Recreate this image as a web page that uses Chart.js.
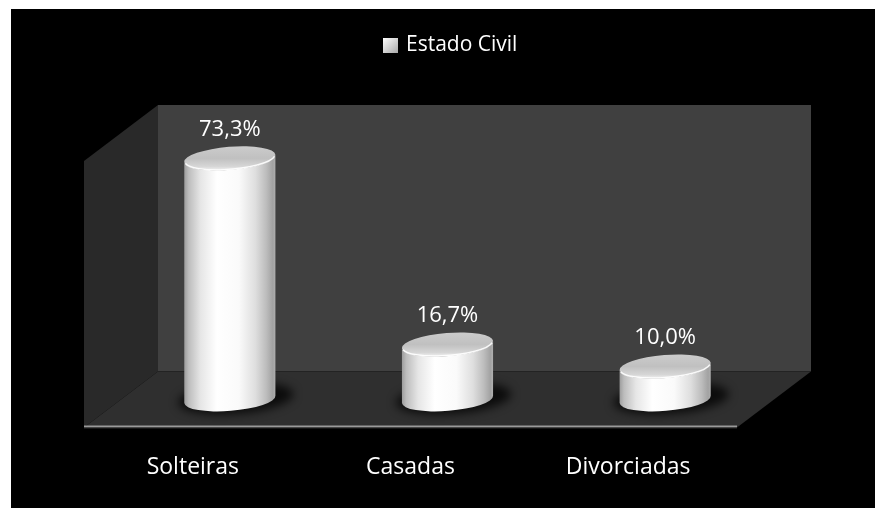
<!DOCTYPE html>
<html>
<head>
<meta charset="utf-8">
<script src="https://cdn.jsdelivr.net/npm/chart.js@4.4.1/dist/chart.umd.min.js"></script>
<style>
  html, body { margin: 0; padding: 0; background: #fff; }
  .chart { width: 875px; height: 508px; }
</style>
</head>
<body>
<div class="chart"><canvas id="chart" width="875" height="508"></canvas></div>
<script>
const categories = ['Solteiras', 'Casadas', 'Divorciadas'];
const seriesName = 'Estado Civil';
const percentages = [73.3, 16.7, 10.0];

const FONT = '"Open Sans", "Noto Sans", sans-serif';
// half depth of the 3D box, measured from the plane the cylinders stand in
const DX = 37;
const DY = 28;
const TICK_PAD = 54;
const TICK_SIZE = 23;

const formatPct = (v) => v.toFixed(1).replace('.', ',') + '%';

// white frame, back wall, side wall and floor
const room = {
  id: 'room',
  beforeDraw(chart) {
    const { ctx, chartArea: a, width, height } = chart;
    const base = chart.scales.y.getPixelForValue(0);
    const top = a.top;
    ctx.save();
    ctx.fillStyle = '#ffffff';
    ctx.fillRect(0, 0, width, height);
    ctx.fillStyle = '#000000';
    ctx.fillRect(11, 9, width - 11, height - 9);

    ctx.fillStyle = '#404040';
    ctx.fillRect(a.left + DX, top - DY, a.right - a.left, base - top);

    ctx.fillStyle = '#292929';
    ctx.beginPath();
    ctx.moveTo(a.left - DX, top + DY);
    ctx.lineTo(a.left + DX, top - DY);
    ctx.lineTo(a.left + DX, base - DY);
    ctx.lineTo(a.left - DX, base + DY);
    ctx.closePath();
    ctx.fill();

    ctx.fillStyle = '#2f2f2f';
    ctx.beginPath();
    ctx.moveTo(a.left - DX, base + DY);
    ctx.lineTo(a.left + DX, base - DY);
    ctx.lineTo(a.right + DX, base - DY);
    ctx.lineTo(a.right - DX, base + DY);
    ctx.closePath();
    ctx.fill();

    ctx.strokeStyle = '#9a9a9a';
    ctx.lineWidth = 2;
    ctx.beginPath();
    ctx.moveTo(a.left - DX, base + DY - 1);
    ctx.lineTo(a.right - DX, base + DY - 1);
    ctx.stroke();
    ctx.strokeStyle = '#3a3a3a';
    ctx.lineWidth = 1;
    ctx.beginPath();
    ctx.moveTo(a.left - DX, base + DY + 0.5);
    ctx.lineTo(a.right - DX, base + DY + 0.5);
    ctx.stroke();
    ctx.restore();
  },
};

// each bar element becomes a shaded cylinder with its value above it
const cylinders = {
  id: 'cylinders',
  afterDatasetsDraw(chart) {
    const { ctx } = chart;
    const meta = chart.getDatasetMeta(0);
    meta.data.forEach((bar, i) => {
      const { x, y, base, width } = bar.getProps(['x', 'y', 'base', 'width'], true);
      const rx = width / 2;
      const ry = 11.5;
      const tilt = -0.08;

      ctx.save();
      ctx.filter = 'blur(5px)';
      ctx.fillStyle = 'rgba(0,0,0,0.75)';
      ctx.beginPath();
      ctx.ellipse(x + 6, base - 1, rx + 12, ry + 4, tilt, 0, Math.PI * 2);
      ctx.fill();
      ctx.restore();

      ctx.save();
      const body = ctx.createLinearGradient(x - rx, 0, x + rx, 0);
      body.addColorStop(0, '#9c9c9c');
      body.addColorStop(0.05, '#bdbdbd');
      body.addColorStop(0.18, '#e6e6e6');
      body.addColorStop(0.36, '#ffffff');
      body.addColorStop(0.6, '#fafafa');
      body.addColorStop(0.78, '#dedede');
      body.addColorStop(0.9, '#bcbcbc');
      body.addColorStop(0.97, '#a2a2a2');
      body.addColorStop(1, '#b0b0b0');
      ctx.fillStyle = body;
      ctx.beginPath();
      ctx.ellipse(x, base, rx, ry, tilt, Math.PI, 0, true);
      ctx.ellipse(x, y, rx, ry, tilt, 0, Math.PI, false);
      ctx.closePath();
      ctx.fill();

      const cap = ctx.createLinearGradient(0, y - ry, 0, y + ry);
      cap.addColorStop(0, '#cbcbcb');
      cap.addColorStop(0.5, '#c0c0c0');
      cap.addColorStop(0.85, '#d6d6d6');
      cap.addColorStop(1, '#eeeeee');
      ctx.fillStyle = cap;
      ctx.beginPath();
      ctx.ellipse(x, y, rx, ry, tilt, 0, Math.PI * 2);
      ctx.fill();
      ctx.strokeStyle = 'rgba(255,255,255,0.9)';
      ctx.lineWidth = 1.5;
      ctx.beginPath();
      ctx.ellipse(x, y, rx - 0.5, ry - 0.5, tilt, 0.15, Math.PI - 0.15, false);
      ctx.stroke();

      ctx.fillStyle = '#ffffff';
      ctx.font = '22px ' + FONT;
      ctx.textAlign = 'center';
      ctx.textBaseline = 'middle';
      ctx.fillText(formatPct(percentages[i]), x, y - 29);
      ctx.restore();
    });
  },
};

// single legend entry above the box
const legendEntry = {
  id: 'legendEntry',
  afterDraw(chart) {
    const { ctx } = chart;
    const bx = 383, by = 38, size = 15;
    ctx.save();
    const g = ctx.createLinearGradient(bx, by, bx + size, by + size);
    g.addColorStop(0, '#ffffff');
    g.addColorStop(1, '#a8a8a8');
    ctx.fillStyle = g;
    ctx.fillRect(bx, by, size, size);
    ctx.fillStyle = '#ffffff';
    ctx.font = '21px ' + FONT;
    ctx.textAlign = 'left';
    ctx.textBaseline = 'middle';
    ctx.fillText(chart.data.datasets[0].label, bx + size + 8, by + size / 2);
    ctx.restore();
  },
};

new Chart(document.getElementById('chart'), {
  type: 'bar',
  data: {
    labels: categories,
    datasets: [
      {
        label: seriesName,
        data: percentages,
        backgroundColor: 'rgba(0,0,0,0)',
        borderWidth: 0,
        barPercentage: 0.42,
        categoryPercentage: 1,
      },
    ],
  },
  options: {
    responsive: false,
    animation: false,
    devicePixelRatio: 1,
    layout: {
      padding: { left: 121, right: 101, top: 133, bottom: 27 },
    },
    scales: {
      x: {
        grid: { display: false, drawTicks: false },
        border: { display: false },
        ticks: {
          color: '#ffffff',
          font: { family: FONT, size: TICK_SIZE },
          padding: TICK_PAD,
          labelOffset: -DX,
          maxRotation: 0,
        },
        // padding is only wanted above the labels, not below them
        afterFit: (scale) => {
          scale.height = TICK_PAD + TICK_SIZE * 1.2;
        },
      },
      y: {
        display: false,
        min: 0,
        max: 81,
      },
    },
    plugins: {
      legend: { display: false },
      tooltip: { enabled: false },
    },
  },
  plugins: [room, cylinders, legendEntry],
});
</script>
</body>
</html>
